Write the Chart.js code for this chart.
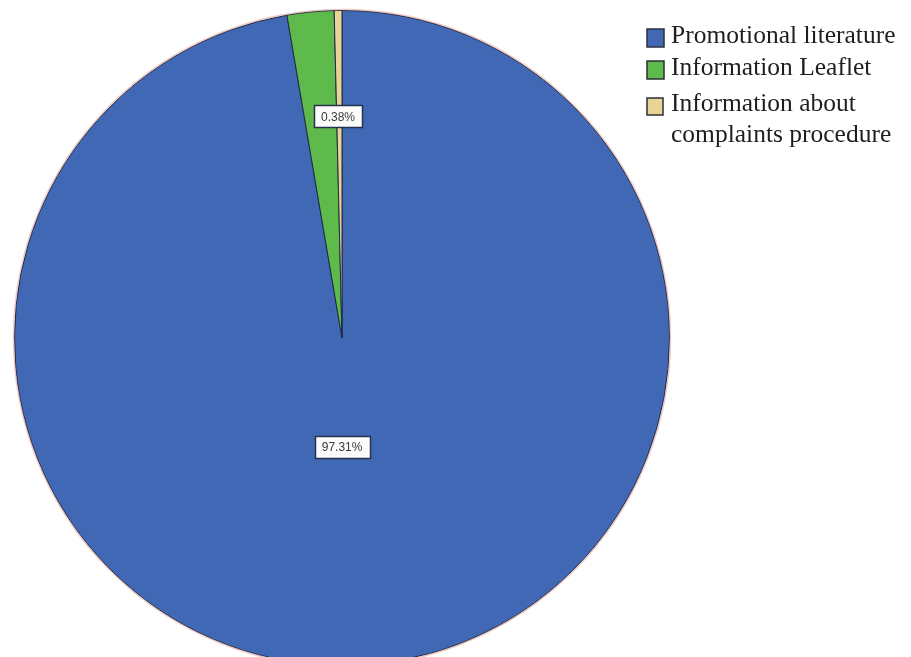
<!DOCTYPE html>
<html>
<head>
<meta charset="utf-8">
<script src="https://cdn.jsdelivr.net/npm/chart.js@4/dist/chart.umd.min.js"></script>
<style>
  html, body { margin: 0; padding: 0; background: #ffffff; overflow: hidden; }
  #wrap { position: absolute; left: 0; top: 0; width: 911px; height: 680px; }
</style>
</head>
<body>
<div id="wrap"><canvas id="pie" width="911" height="680"></canvas></div>
<script>
// Categories and their shares (percent of responses)
const categories = [
  'Promotional literature',
  'Information Leaflet',
  ['Information about', 'complaints procedure']
];
const shares = [97.31, 2.31, 0.38];
const sliceColors = ['#4068b4', '#5fba4c', '#e8d595'];
// Slices that carry a value tag
const labelledSlices = [true, false, true];

// Value tags drawn in white boxes inside the slices
const valueTags = {
  id: 'valueTags',
  afterDatasetsDraw(chart, args, opts) {
    const ctx = chart.ctx;
    const meta = chart.getDatasetMeta(0);
    ctx.save();
    ctx.font = '12px "Liberation Sans", Arial, sans-serif';
    ctx.textAlign = 'center';
    ctx.textBaseline = 'middle';
    meta.data.forEach((arc, i) => {
      if (!labelledSlices[i]) return;
      const mid = (arc.startAngle + arc.endAngle) / 2 + opts.angleShift[i] * Math.PI / 180;
      const r = arc.outerRadius * opts.radiusFraction[i];
      const x = arc.x + Math.cos(mid) * r;
      const y = arc.y + Math.sin(mid) * r;
      const text = shares[i].toFixed(2) + '%';
      const w = Math.round(ctx.measureText(text).width + 14);
      const h = 22;
      const bx = Math.round(x - w / 2), by = Math.round(y - h / 2);
      ctx.fillStyle = '#fbfbfb';
      ctx.fillRect(bx, by, w, h);
      ctx.strokeStyle = '#26324c';
      ctx.lineWidth = 1.5;
      ctx.strokeRect(bx + 0.5, by + 0.5, w, h);
      ctx.fillStyle = '#3a3a3a';
      ctx.fillText(text, x, y + 1);
    });
    ctx.restore();
  }
};

// Faint outer rim around the pie
const rim = {
  id: 'rim',
  afterDatasetsDraw(chart) {
    const arc = chart.getDatasetMeta(0).data[0];
    const ctx = chart.ctx;
    ctx.save();
    ctx.beginPath();
    ctx.arc(arc.x, arc.y, arc.outerRadius + 1, 0, Math.PI * 2);
    ctx.strokeStyle = 'rgba(225,160,150,0.55)';
    ctx.lineWidth = 1.5;
    ctx.stroke();
    ctx.restore();
  }
};

// Legend at the top right, serif text, multi-line entries allowed
const sideLegend = {
  id: 'sideLegend',
  afterDraw(chart, args, opts) {
    const ctx = chart.ctx;
    ctx.save();
    ctx.font = opts.fontSize + 'px "Liberation Serif", "Times New Roman", serif';
    ctx.textAlign = 'left';
    ctx.textBaseline = 'alphabetic';
    categories.forEach((cat, i) => {
      const lines = Array.isArray(cat) ? cat : [cat];
      const base = opts.baselines[i];
      const box = opts.boxes[i];
      ctx.fillStyle = sliceColors[i];
      ctx.fillRect(opts.boxX, base - box.up, box.w, box.h);
      ctx.strokeStyle = '#2c2f38';
      ctx.lineWidth = 1.5;
      ctx.strokeRect(opts.boxX, base - box.up, box.w, box.h);
      ctx.fillStyle = '#1e1e1e';
      lines.forEach((ln, j) => {
        ctx.fillText(ln, opts.textX, base + j * opts.lineStep);
      });
    });
    ctx.restore();
  }
};

new Chart(document.getElementById('pie'), {
  type: 'pie',
  data: {
    labels: categories.map(c => Array.isArray(c) ? c.join(' ') : c),
    datasets: [{
      data: shares,
      backgroundColor: sliceColors,
      borderColor: '#1e2a44',
      borderWidth: 1
    }]
  },
  options: {
    responsive: false,
    animation: false,
    devicePixelRatio: 1,
    layout: { padding: { left: 14, right: 241, top: 10, bottom: 14 } },
    plugins: {
      legend: { display: false },
      tooltip: { enabled: false },
      valueTags: { radiusFraction: [0.332, 0, 0.677], angleShift: [4.8, 0, -0.35] },
      sideLegend: {
        fontSize: 25.5,
        boxX: 647,
        textX: 671,
        lineStep: 31,
        baselines: [43, 75, 111],
        boxes: [
          { w: 17, h: 18, up: 14 },
          { w: 17, h: 18, up: 14 },
          { w: 16, h: 17, up: 13 }
        ]
      }
    }
  },
  plugins: [rim, valueTags, sideLegend]
});
</script>
</body>
</html>
